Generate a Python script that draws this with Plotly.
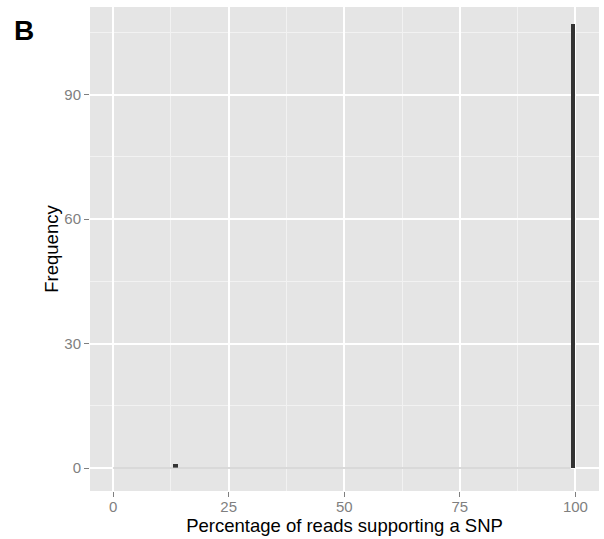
import plotly.graph_objects as go

# Data: histogram of percentage of reads supporting a SNP (binwidth 1, range 0-100)
bin_starts = [13, 99]
counts = [1, 107]
bin_width = 1
data_min = 0
data_max = 100

x_ticks = [0, 25, 50, 75, 100]
y_ticks = [0, 30, 60, 90]

panel_bg = "#E5E5E5"
bar_color = "#333333"
tick_color = "#7F7F7F"

centers = [s + bin_width / 2 for s in bin_starts]

fig = go.Figure()

# zero-count bins drawn as a thin baseline (as in ggplot2 histograms)
fig.add_trace(go.Scatter(
    x=[data_min, max(bin_starts)], y=[0, 0], mode="lines",
    line=dict(color="#B3B3B3", width=1), hoverinfo="skip", showlegend=False,
))

fig.add_trace(go.Bar(
    x=centers, y=counts, width=[bin_width] * len(centers),
    marker=dict(color=bar_color, line=dict(width=0)), showlegend=False,
))

axis_font = dict(family="Liberation Sans, Arial, sans-serif", size=15, color=tick_color)
title_font = dict(family="Liberation Sans, Arial, sans-serif", size=18.5, color="#000000")

fig.update_layout(
    width=604, height=539,
    margin=dict(l=90, r=5, t=7, b=48, autoexpand=False),
    paper_bgcolor="white",
    plot_bgcolor=panel_bg,
    bargap=0,
    xaxis=dict(
        range=[-5, 105.1],
        tickvals=x_ticks, ticktext=[str(v) for v in x_ticks],
        tickfont=axis_font,
        ticks="outside", ticklen=5, tickwidth=1, tickcolor=tick_color,
        ticklabelstandoff=-3,
        showgrid=True, gridcolor="white", gridwidth=1.6,
        minor=dict(dtick=12.5, tick0=0, showgrid=True, gridcolor="#F2F2F2", gridwidth=0.8),
        zeroline=False, showline=False,
        title=dict(text="Percentage of reads supporting a SNP", font=title_font, standoff=0),
        automargin=False,
    ),
    yaxis=dict(
        range=[-5.54, 111.1],
        tickvals=y_ticks, ticktext=[str(v) for v in y_ticks],
        tickfont=axis_font,
        ticks="outside", ticklen=5, tickwidth=1, tickcolor=tick_color,
        showgrid=True, gridcolor="white", gridwidth=1.6,
        minor=dict(dtick=15, tick0=0, showgrid=True, gridcolor="#F2F2F2", gridwidth=0.8),
        zeroline=False, showline=False,
        title=dict(text="Frequency", font=title_font, standoff=0),
        automargin=False,
    ),
    annotations=[dict(
        text="<b>B</b>", xref="paper", yref="paper", x=-0.15, y=1.0,
        xanchor="center", yanchor="top", showarrow=False,
        font=dict(family="Liberation Sans, Arial, sans-serif", size=28, color="black"),
        xshift=10, yshift=-6,
    )],
)

fig.write_html("out.html")
